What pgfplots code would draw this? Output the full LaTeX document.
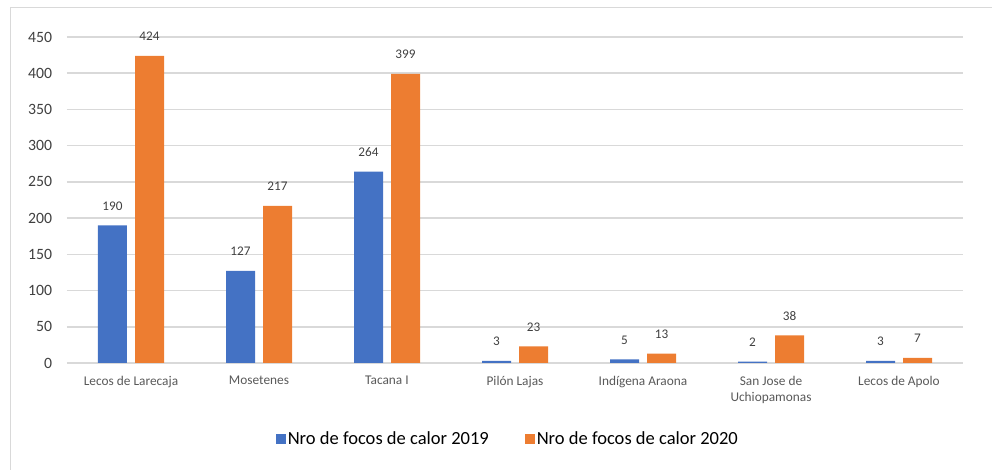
\documentclass[border=0pt]{standalone}
\usepackage{fontspec}
\setmainfont{Carlito}
\usepackage{pgfplots}
\pgfplotsset{compat=1.18}
\definecolor{cblue}{HTML}{4472C4}
\definecolor{corange}{HTML}{ED7D31}
\definecolor{cgrid}{HTML}{D9D9D9}
\definecolor{cxlab}{HTML}{595959}
\definecolor{cdark}{HTML}{404040}
\begin{document}
\begin{tikzpicture}
\path[use as bounding box] (0,0) rectangle (744pt,352.5pt);
\draw[cgrid, line width=0.75pt] (7.5pt,0) -- (7.5pt,346.5pt) -- (744pt,346.5pt);
\begin{axis}[
  at={(50.25pt,80.25pt)}, anchor=south west,
  scale only axis, width=672pt, height=244.5pt,
  xmin=-0.5, xmax=6.5, ymin=0, ymax=450,
  ybar, bar width=21.75pt,
  axis line style={draw=none},
  ytick={0,50,...,450},
  ymajorgrids, grid style={cgrid, line width=1.1pt},
  major tick length=0pt,
  /pgf/number format/assume math mode=true,
  xtick={0,...,6},
  xticklabels={Lecos de Larecaja, Mosetenes, Tacana I, Pilón Lajas, Indígena Araona, {San Jose de\\Uchiopamonas}, Lecos de Apolo},
  xticklabel style={align=center, inner sep=0pt, anchor=north, yshift=-9.5pt, font=\fontsize{10}{12.5}\selectfont, text=cxlab},
  yticklabel style={inner sep=0pt, anchor=east, xshift=-11pt, font=\fontsize{11.8}{14}\selectfont, text=cdark},
  nodes near coords,
  nodes near coords align={center},
  every node near coord/.append style={font=\fontsize{9.9}{12}\selectfont, text=cdark, yshift=14.6pt},
  legend style={at={(0.492,-0.233)}, anchor=center, draw=none, fill=none, legend columns=2,
    font=\fontsize{13.9}{16}\selectfont, text=black,
    /tikz/every even column/.append style={column sep=26pt},
    inner sep=0pt, nodes={inner sep=1.2pt}},
  legend image code/.code={\fill[#1] (0pt,-3.75pt) rectangle (7.5pt,3.75pt);},
]
\addplot[fill=cblue, draw=none, bar shift=-13.875pt] coordinates {(0,190) (1,127) (2,264) (3,3) (4,5) (5,2) (6,3)};
\addlegendentry{Nro de focos de calor 2019}
\addplot[fill=corange, draw=none, bar shift=13.875pt] coordinates {(0,424) (1,217) (2,399) (3,23) (4,13) (5,38) (6,7)};
\addlegendentry{Nro de focos de calor 2020}
\end{axis}
\end{tikzpicture}
\end{document}
